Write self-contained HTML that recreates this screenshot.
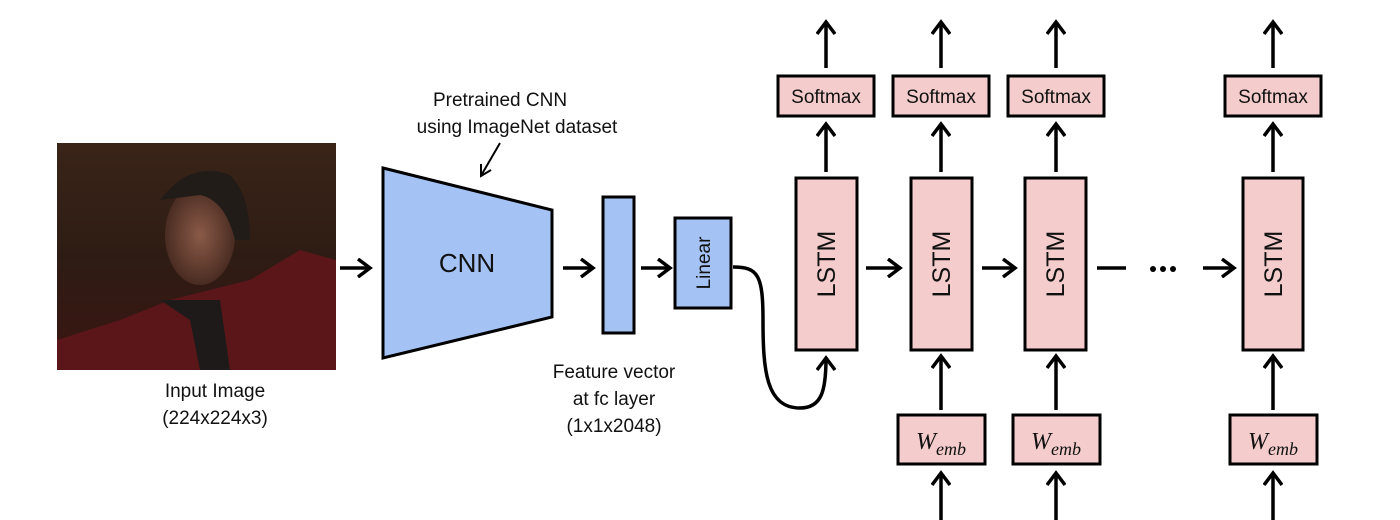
<!DOCTYPE html>
<html><head><meta charset="utf-8"><style>
html,body{margin:0;padding:0;background:#fff;width:1400px;height:520px;overflow:hidden}
text{font-family:"Liberation Sans",sans-serif;fill:#111}
</style></head><body>
<svg width="1400" height="520" viewBox="0 0 1400 520" xmlns="http://www.w3.org/2000/svg">
<defs>
<marker id="ah2" markerWidth="20" markerHeight="20" refX="14" refY="10" orient="auto" markerUnits="userSpaceOnUse">
<path d="M2,1 L14,10 L2,19" fill="none" stroke="#000" stroke-width="3.5"/>
</marker>
<linearGradient id="bg" x1="0" y1="0" x2="0" y2="1">
<stop offset="0" stop-color="#3a2418"/><stop offset="0.5" stop-color="#2e1c14"/><stop offset="1" stop-color="#3b1512"/>
</linearGradient>
<radialGradient id="face" cx="0.5" cy="0.5" r="0.5">
<stop offset="0" stop-color="#8a5a48"/><stop offset="1" stop-color="#4a2c22"/>
</radialGradient>
</defs>
<rect x="57" y="143" width="279" height="227" fill="url(#bg)"/>
<path d="M57,340 L120,320 L170,300 L210,290 L250,280 L300,250 L336,260 L336,370 L57,370Z" fill="#5a1618"/>
<path d="M160,300 L190,320 L200,370 L230,370 L220,300Z" fill="#1e1a1a"/>
<ellipse cx="200" cy="235" rx="35" ry="50" fill="url(#face)"/>
<path d="M160,200 Q190,160 230,175 Q250,195 250,240 L235,240 Q225,200 200,195 Z" fill="#221c18"/>
<text x="215" y="397" font-size="19" text-anchor="middle">Input Image</text>
<text x="215" y="424" font-size="19" text-anchor="middle">(224x224x3)</text>
<text x="500" y="106" font-size="19" text-anchor="middle">Pretrained CNN</text>
<text x="517" y="133" font-size="19" text-anchor="middle">using ImageNet dataset</text>
<line x1="500" y1="143" x2="482" y2="174" stroke="#000" stroke-width="2"/>
<path d="M481,164 L481,176 L491,170" fill="none" stroke="#000" stroke-width="2"/>
<text x="614" y="378" font-size="19" text-anchor="middle">Feature vector</text>
<text x="614" y="405" font-size="19" text-anchor="middle">at fc layer</text>
<text x="614" y="432" font-size="19" text-anchor="middle">(1x1x2048)</text>
<path d="M383,168 L552,210 L552,317 L383,358 Z" fill="#a4c2f4" stroke="#000" stroke-width="3"/>
<text x="467" y="272" font-size="26" text-anchor="middle">CNN</text>
<rect x="603" y="197" width="31" height="136" fill="#a4c2f4" stroke="#000" stroke-width="3"/>
<rect x="675" y="218" width="56" height="90" fill="#a4c2f4" stroke="#000" stroke-width="3"/>
<text transform="translate(710,263) rotate(-90)" font-size="19" text-anchor="middle">Linear</text>
<g stroke="#000" stroke-width="3.5" fill="none">
<line x1="340" y1="268" x2="370" y2="268" marker-end="url(#ah2)"/>
<line x1="563" y1="268" x2="593" y2="268" marker-end="url(#ah2)"/>
<line x1="641" y1="268" x2="670" y2="268" marker-end="url(#ah2)"/>
<line x1="866" y1="268" x2="900" y2="268" marker-end="url(#ah2)"/>
<line x1="982" y1="268" x2="1015" y2="268" marker-end="url(#ah2)"/>
<line x1="1097" y1="268" x2="1126" y2="268"/>
<line x1="1203" y1="268" x2="1234" y2="268" marker-end="url(#ah2)"/>
<path d="M733,267 C758,267 763,275 763,320 C763,370 766,408 800,408 C822,408 826,390 826,358" marker-end="url(#ah2)"/>
</g>
<circle cx="1153" cy="269" r="3" fill="#000"/><circle cx="1163" cy="269" r="3" fill="#000"/><circle cx="1173" cy="269" r="3" fill="#000"/>
<g stroke="#000" stroke-width="3.5" fill="none">
<line x1="826" y1="68" x2="826" y2="22" marker-end="url(#ah2)"/>
<line x1="941" y1="68" x2="941" y2="22" marker-end="url(#ah2)"/>
<line x1="1056" y1="68" x2="1056" y2="22" marker-end="url(#ah2)"/>
<line x1="1273" y1="68" x2="1273" y2="22" marker-end="url(#ah2)"/>
<line x1="826" y1="172" x2="826" y2="124" marker-end="url(#ah2)"/>
<line x1="941" y1="172" x2="941" y2="124" marker-end="url(#ah2)"/>
<line x1="1056" y1="172" x2="1056" y2="124" marker-end="url(#ah2)"/>
<line x1="1273" y1="172" x2="1273" y2="124" marker-end="url(#ah2)"/>
<line x1="941" y1="410" x2="941" y2="356" marker-end="url(#ah2)"/>
<line x1="1056" y1="410" x2="1056" y2="356" marker-end="url(#ah2)"/>
<line x1="1273" y1="410" x2="1273" y2="356" marker-end="url(#ah2)"/>
<line x1="941" y1="520" x2="941" y2="473" marker-end="url(#ah2)"/>
<line x1="1056" y1="520" x2="1056" y2="473" marker-end="url(#ah2)"/>
<line x1="1273" y1="520" x2="1273" y2="473" marker-end="url(#ah2)"/>
</g>
<g fill="#f4cccc" stroke="#000" stroke-width="3">
<rect x="796" y="178" width="61" height="172"/>
<rect x="911" y="178" width="61" height="172"/>
<rect x="1025" y="178" width="61" height="172"/>
<rect x="1243" y="178" width="60" height="172"/>
<rect x="778" y="76" width="96" height="40"/>
<rect x="893" y="76" width="96" height="40"/>
<rect x="1008" y="76" width="96" height="40"/>
<rect x="1225" y="76" width="96" height="40"/>
<rect x="898" y="415" width="87" height="49"/>
<rect x="1013" y="415" width="87" height="49"/>
<rect x="1230" y="415" width="87" height="49"/>
</g>
<g font-size="25" text-anchor="middle">
<text transform="translate(835,264) rotate(-90)">LSTM</text>
<text transform="translate(950,264) rotate(-90)">LSTM</text>
<text transform="translate(1064,264) rotate(-90)">LSTM</text>
<text transform="translate(1282,264) rotate(-90)">LSTM</text>
</g>
<g font-size="19" text-anchor="middle">
<text x="826" y="103">Softmax</text>
<text x="941" y="103">Softmax</text>
<text x="1056" y="103">Softmax</text>
<text x="1273" y="103">Softmax</text>
</g>
<g font-size="24" text-anchor="middle" font-style="italic">
<text x="941" y="449" style="font-family:'Liberation Serif',serif">W<tspan font-size="18" dy="6">emb</tspan></text>
<text x="1056" y="449" style="font-family:'Liberation Serif',serif">W<tspan font-size="18" dy="6">emb</tspan></text>
<text x="1273" y="449" style="font-family:'Liberation Serif',serif">W<tspan font-size="18" dy="6">emb</tspan></text>
</g>
</svg>
</body></html>
